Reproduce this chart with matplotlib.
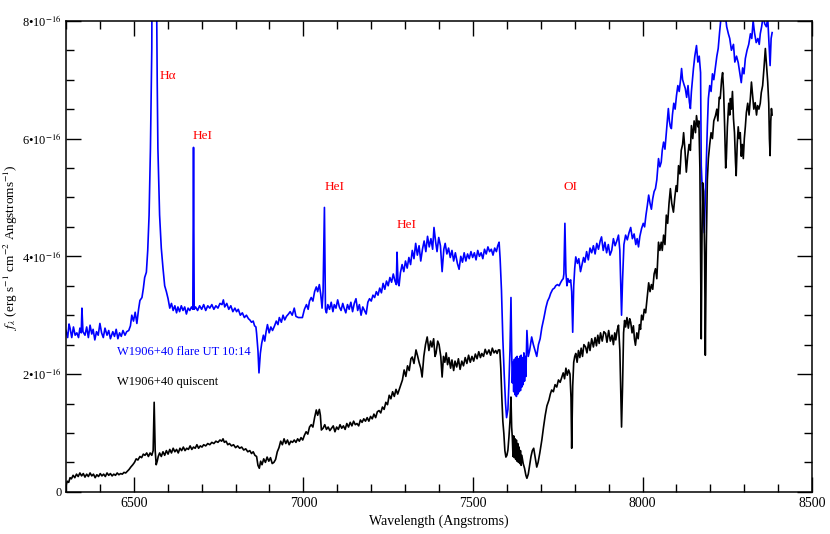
import matplotlib
matplotlib.use("Agg")
import matplotlib.pyplot as plt
from matplotlib.ticker import MultipleLocator, FixedLocator, FuncFormatter
import numpy as np

# flux in units of 1e-16 erg/s/cm2/A
flare = [
    (6300, 2.74), (6305, 2.62), (6309, 2.85), (6312, 2.78), (6317, 2.62), (6322, 2.80), (6327, 2.66),
    (6332, 2.70), (6337, 2.62), (6341, 2.78), (6345, 2.70), (6347, 3.12), (6350, 2.72), (6356, 2.66),
    (6361, 2.80), (6366, 2.62), (6371, 2.83), (6376, 2.68), (6380, 2.76), (6385, 2.58), (6390, 2.72),
    (6395, 2.66), (6400, 2.86), (6405, 2.70), (6410, 2.62), (6415, 2.78), (6421, 2.66), (6426, 2.74),
    (6431, 2.60), (6438, 2.72), (6443, 2.64), (6448, 2.76), (6453, 2.60), (6458, 2.70), (6463, 2.64),
    (6468, 2.74), (6474, 2.66), (6479, 2.72), (6485, 2.74), (6490, 2.82), (6494, 3.00), (6499, 2.90),
    (6504, 3.05), (6509, 2.86), (6514, 3.10), (6518, 3.25), (6524, 3.30), (6528, 3.45), (6532, 3.64),
    (6537, 3.73), (6541, 4.10), (6545, 4.70), (6549, 5.83), (6553, 7.53), (6560, 20.0), (6567, 8.5),
    (6569, 6.96), (6571, 5.83), (6576, 4.70), (6581, 4.14), (6586, 3.80), (6591, 3.50), (6596, 3.40),
    (6601, 3.28), (6606, 3.12), (6611, 3.20), (6616, 3.08), (6621, 3.16), (6626, 3.04), (6630, 3.14),
    (6635, 3.06), (6640, 3.16), (6645, 3.08), (6650, 3.14), (6655, 3.02), (6660, 3.12), (6665, 3.08),
    (6670, 3.14), (6674, 3.10), (6676, 5.85), (6678, 3.10), (6682, 3.14), (6688, 3.08), (6694, 3.16),
    (6700, 3.10), (6706, 3.18), (6712, 3.08), (6718, 3.16), (6724, 3.12), (6730, 3.18), (6736, 3.10),
    (6742, 3.16), (6748, 3.12), (6754, 3.20), (6760, 3.18), (6764, 3.26), (6768, 3.14), (6774, 3.20),
    (6780, 3.10), (6786, 3.16), (6792, 3.06), (6798, 3.12), (6803, 3.06), (6808, 3.10), (6814, 3.00),
    (6820, 3.04), (6826, 2.96), (6832, 3.00), (6838, 2.94), (6842, 2.92), (6847, 2.88), (6852, 2.90),
    (6856, 2.82), (6860, 2.80), (6862, 2.69), (6866, 2.40), (6869, 2.02), (6873, 2.35), (6877, 2.52),
    (6882, 2.66), (6886, 2.56), (6890, 2.72), (6894, 2.84), (6899, 2.70), (6904, 2.80), (6909, 2.74),
    (6915, 2.82), (6920, 2.90), (6925, 2.84), (6929, 2.96), (6935, 2.88), (6940, 3.00), (6945, 2.92),
    (6950, 2.98), (6956, 3.02), (6961, 3.06), (6967, 3.00), (6973, 3.12), (6978, 2.98), (6985, 2.96),
    (6997, 2.96), (7003, 3.10), (7009, 3.18), (7014, 3.10), (7018, 3.24), (7023, 3.30), (7028, 3.24),
    (7033, 3.40), (7038, 3.48), (7042, 3.40), (7047, 3.52), (7051, 3.36), (7055, 3.12), (7058, 3.40),
    (7062, 4.83), (7065, 3.10), (7068, 3.04), (7072, 3.18), (7077, 3.10), (7082, 3.22), (7087, 3.06),
    (7091, 3.18), (7096, 3.12), (7101, 3.26), (7106, 3.14), (7111, 3.08), (7116, 3.20), (7120, 3.12),
    (7125, 3.04), (7130, 3.18), (7135, 3.10), (7140, 3.22), (7145, 3.06), (7150, 3.20), (7155, 3.28),
    (7160, 3.08), (7165, 3.18), (7170, 3.00), (7175, 3.14), (7180, 3.08), (7185, 3.02), (7190, 3.22),
    (7195, 3.28), (7200, 3.24), (7205, 3.34), (7210, 3.30), (7215, 3.40), (7220, 3.34), (7225, 3.46),
    (7230, 3.38), (7235, 3.54), (7240, 3.44), (7245, 3.58), (7250, 3.50), (7255, 3.64), (7260, 3.56),
    (7265, 3.70), (7270, 3.58), (7274, 3.52), (7276, 4.07), (7279, 3.56), (7282, 3.50), (7286, 3.72),
    (7291, 3.86), (7296, 3.74), (7301, 3.92), (7306, 3.80), (7311, 3.98), (7316, 3.86), (7321, 4.10),
    (7326, 3.96), (7331, 4.22), (7336, 4.02), (7341, 4.18), (7346, 3.92), (7351, 4.12), (7356, 4.26),
    (7361, 4.08), (7366, 4.34), (7371, 4.16), (7376, 4.30), (7381, 4.12), (7385, 4.49), (7390, 4.24),
    (7394, 4.08), (7399, 4.32), (7404, 4.18), (7409, 3.74), (7414, 4.12), (7418, 4.22), (7423, 4.04),
    (7428, 4.14), (7433, 3.98), (7438, 4.10), (7443, 3.92), (7448, 4.06), (7454, 3.88), (7459, 3.78),
    (7464, 4.00), (7469, 3.90), (7474, 4.06), (7479, 3.92), (7484, 4.04), (7489, 3.96), (7494, 4.08),
    (7499, 3.98), (7504, 4.06), (7509, 3.94), (7514, 4.10), (7519, 4.00), (7524, 4.06), (7529, 3.96),
    (7534, 4.12), (7539, 4.04), (7544, 4.16), (7549, 4.08), (7554, 4.12), (7559, 4.02), (7564, 4.14),
    (7569, 4.08), (7573, 4.18), (7577, 4.24), (7580, 3.96), (7584, 3.42), (7588, 2.60), (7592, 2.00),
    (7596, 1.50), (7599, 1.26), (7603, 1.40), (7606, 1.85), (7609, 2.40), (7612, 3.30), (7614, 2.40),
    (7616, 1.85), (7618, 2.20), (7620, 1.70), (7622, 2.25), (7624, 1.65), (7626, 2.28), (7628, 1.62),
    (7630, 2.30), (7632, 1.66), (7634, 2.26), (7636, 1.70), (7638, 2.30), (7640, 1.72), (7642, 2.32),
    (7644, 1.78), (7646, 2.28), (7648, 1.82), (7650, 2.36), (7652, 1.88), (7654, 2.30), (7656, 1.96),
    (7659, 2.74), (7663, 2.30), (7667, 2.40), (7673, 2.63), (7678, 2.50), (7683, 2.40), (7688, 2.30),
    (7693, 2.50), (7698, 2.60), (7703, 2.79), (7709, 2.95), (7715, 3.13), (7720, 3.24), (7725, 3.30),
    (7729, 3.37), (7735, 3.44), (7740, 3.46), (7744, 3.50), (7749, 3.52), (7754, 3.50), (7759, 3.56),
    (7763, 3.60), (7766, 3.62), (7768, 3.70), (7771, 4.56), (7774, 3.72), (7777, 3.50), (7780, 3.62),
    (7784, 3.56), (7788, 3.60), (7791, 3.40), (7794, 2.71), (7797, 3.50), (7800, 3.80), (7803, 3.99),
    (7808, 3.88), (7812, 3.96), (7817, 3.74), (7821, 3.85), (7826, 3.98), (7830, 3.90), (7835, 4.08),
    (7840, 3.94), (7845, 4.14), (7850, 4.06), (7855, 4.18), (7860, 4.04), (7865, 4.22), (7870, 4.12),
    (7875, 4.26), (7879, 4.33), (7884, 4.10), (7889, 4.24), (7894, 4.06), (7899, 4.20), (7904, 4.02),
    (7909, 4.10), (7914, 4.30), (7919, 4.18), (7924, 4.26), (7929, 4.36), (7933, 4.10), (7936, 3.40),
    (7938, 3.00), (7941, 3.60), (7945, 4.20), (7950, 4.36), (7955, 4.28), (7960, 4.40), (7965, 4.49),
    (7970, 4.30), (7975, 4.38), (7980, 4.20), (7984, 4.30), (7988, 4.16), (7992, 4.34), (7997, 4.47),
    (8002, 4.56), (8006, 4.50), (8010, 4.70), (8014, 4.86), (8018, 5.04), (8022, 4.90), (8026, 4.80),
    (8030, 4.98), (8034, 5.10), (8038, 5.15), (8042, 5.30), (8047, 5.66), (8051, 5.52), (8055, 5.60),
    (8058, 5.80), (8062, 5.94), (8066, 5.82), (8070, 6.10), (8074, 6.40), (8076, 6.51), (8079, 6.30),
    (8082, 6.20), (8085, 6.17), (8088, 6.40), (8092, 6.60), (8096, 6.50), (8100, 6.73), (8104, 6.90),
    (8108, 6.80), (8112, 7.00), (8115, 7.19), (8118, 7.00), (8122, 6.92), (8126, 6.85), (8130, 6.70),
    (8134, 6.90), (8138, 6.62), (8141, 6.51), (8144, 6.80), (8147, 7.00), (8150, 7.19), (8154, 7.40),
    (8159, 7.58), (8163, 7.30), (8167, 7.40), (8171, 7.12), (8173, 5.54), (8177, 5.00), (8182, 4.40),
    (8185, 5.00), (8188, 5.54), (8191, 6.20), (8194, 6.68), (8198, 6.90), (8202, 6.80), (8206, 7.10),
    (8210, 7.00), (8215, 7.23), (8219, 7.40), (8223, 7.53), (8227, 7.80), (8232, 8.10), (8236, 8.30),
    (8240, 8.00), (8244, 8.10), (8248, 7.90), (8253, 7.78), (8257, 7.70), (8262, 7.50), (8268, 7.60),
    (8272, 7.30), (8277, 7.40), (8282, 7.29), (8287, 7.10), (8291, 6.95), (8295, 7.20), (8299, 7.10),
    (8303, 7.36), (8308, 7.50), (8313, 7.60), (8318, 7.78), (8322, 7.70), (8326, 8.00), (8330, 7.80),
    (8335, 7.63), (8340, 7.70), (8344, 7.60), (8347, 7.78), (8351, 7.90), (8356, 8.10), (8360, 7.95),
    (8365, 7.90), (8369, 8.05), (8373, 7.60), (8376, 7.24), (8379, 7.70), (8382, 7.80),
]

quiet = [
    (6300, 0.10), (6304, 0.18), (6308, 0.16), (6312, 0.24), (6316, 0.22), (6321, 0.28), (6326, 0.24),
    (6331, 0.30), (6336, 0.26), (6341, 0.32), (6346, 0.27), (6351, 0.31), (6356, 0.25), (6361, 0.30),
    (6366, 0.26), (6371, 0.32), (6376, 0.27), (6381, 0.30), (6386, 0.24), (6391, 0.29), (6396, 0.26),
    (6401, 0.31), (6406, 0.27), (6411, 0.30), (6416, 0.26), (6421, 0.32), (6426, 0.28), (6431, 0.31),
    (6436, 0.27), (6441, 0.30), (6446, 0.28), (6451, 0.32), (6456, 0.29), (6461, 0.31), (6466, 0.30),
    (6471, 0.33), (6476, 0.32), (6481, 0.35), (6486, 0.38), (6491, 0.42), (6497, 0.46), (6502, 0.50),
    (6507, 0.56), (6512, 0.54), (6518, 0.60), (6523, 0.58), (6528, 0.64), (6533, 0.62), (6538, 0.66),
    (6543, 0.60), (6548, 0.66), (6553, 0.62), (6557, 0.70), (6560, 1.52), (6563, 0.70), (6566, 0.46),
    (6569, 0.52), (6572, 0.60), (6576, 0.66), (6581, 0.60), (6586, 0.68), (6591, 0.62), (6596, 0.70),
    (6601, 0.64), (6606, 0.72), (6611, 0.66), (6616, 0.74), (6621, 0.68), (6626, 0.72), (6631, 0.66),
    (6636, 0.74), (6641, 0.70), (6646, 0.76), (6651, 0.70), (6656, 0.74), (6661, 0.72), (6666, 0.78),
    (6671, 0.72), (6676, 0.76), (6681, 0.74), (6686, 0.80), (6691, 0.74), (6696, 0.78), (6701, 0.76),
    (6706, 0.80), (6712, 0.78), (6718, 0.82), (6724, 0.80), (6730, 0.84), (6736, 0.82), (6742, 0.86),
    (6748, 0.84), (6754, 0.88), (6759, 0.86), (6763, 0.90), (6767, 0.84), (6772, 0.86), (6777, 0.80),
    (6782, 0.82), (6788, 0.78), (6794, 0.80), (6800, 0.75), (6806, 0.78), (6812, 0.74), (6818, 0.76),
    (6824, 0.71), (6830, 0.73), (6836, 0.68), (6842, 0.70), (6847, 0.65), (6852, 0.68), (6857, 0.62),
    (6862, 0.60), (6866, 0.45), (6870, 0.40), (6874, 0.52), (6878, 0.46), (6883, 0.56), (6888, 0.50),
    (6893, 0.59), (6898, 0.52), (6903, 0.58), (6908, 0.48), (6913, 0.50), (6918, 0.55), (6923, 0.68),
    (6928, 0.75), (6933, 0.86), (6938, 0.80), (6943, 0.90), (6948, 0.82), (6953, 0.88), (6958, 0.80),
    (6963, 0.86), (6968, 0.84), (6973, 0.88), (6978, 0.84), (6983, 0.90), (6988, 0.86), (6993, 0.92),
    (6998, 0.88), (7003, 0.96), (7008, 1.02), (7013, 0.98), (7018, 1.10), (7023, 1.14), (7028, 1.10),
    (7033, 1.26), (7038, 1.39), (7042, 1.30), (7047, 1.40), (7050, 1.30), (7053, 1.05), (7058, 1.08),
    (7063, 1.14), (7068, 1.06), (7073, 1.10), (7078, 1.04), (7083, 1.08), (7088, 1.12), (7093, 1.02),
    (7098, 1.10), (7103, 1.06), (7108, 1.14), (7113, 1.08), (7118, 1.12), (7123, 1.06), (7128, 1.16),
    (7133, 1.10), (7138, 1.18), (7143, 1.12), (7148, 1.20), (7153, 1.14), (7158, 1.16), (7163, 1.12),
    (7168, 1.22), (7173, 1.18), (7178, 1.24), (7183, 1.20), (7188, 1.26), (7193, 1.20), (7198, 1.28),
    (7203, 1.24), (7208, 1.32), (7213, 1.26), (7218, 1.36), (7223, 1.38), (7228, 1.34), (7233, 1.44),
    (7238, 1.40), (7243, 1.52), (7248, 1.48), (7253, 1.64), (7258, 1.58), (7263, 1.70), (7268, 1.62),
    (7273, 1.74), (7278, 1.66), (7282, 1.73), (7287, 1.82), (7292, 1.90), (7297, 2.07), (7302, 1.96),
    (7307, 2.14), (7312, 2.06), (7317, 2.26), (7321, 2.29), (7326, 2.18), (7332, 2.41), (7337, 2.30),
    (7341, 2.20), (7346, 2.10), (7350, 1.95), (7355, 2.30), (7360, 2.50), (7365, 2.63), (7370, 2.40),
    (7375, 2.56), (7379, 2.46), (7384, 2.60), (7388, 2.30), (7391, 2.35), (7396, 2.56), (7400, 2.50),
    (7405, 2.30), (7409, 1.95), (7413, 2.30), (7417, 2.20), (7421, 2.36), (7425, 2.16), (7429, 2.28),
    (7434, 2.10), (7438, 2.24), (7443, 2.06), (7447, 2.22), (7452, 2.12), (7457, 2.26), (7462, 2.08),
    (7467, 2.22), (7472, 2.14), (7477, 2.28), (7482, 2.18), (7487, 2.32), (7492, 2.20), (7497, 2.30),
    (7502, 2.22), (7507, 2.34), (7512, 2.26), (7517, 2.38), (7522, 2.28), (7526, 2.35), (7531, 2.30),
    (7536, 2.42), (7541, 2.34), (7547, 2.41), (7552, 2.32), (7557, 2.44), (7562, 2.36), (7567, 2.40),
    (7571, 2.35), (7575, 2.41), (7579, 2.41), (7582, 2.10), (7585, 1.61), (7588, 1.20), (7591, 0.99),
    (7594, 0.70), (7597, 0.59), (7600, 0.62), (7603, 0.71), (7606, 0.93), (7609, 1.20), (7612, 1.61),
    (7614, 1.10), (7616, 0.92), (7618, 0.60), (7620, 0.95), (7622, 0.58), (7624, 0.90), (7626, 0.55),
    (7628, 0.88), (7630, 0.52), (7632, 0.82), (7634, 0.50), (7636, 0.76), (7638, 0.48), (7640, 0.70),
    (7642, 0.45), (7644, 0.62), (7648, 0.48), (7652, 0.40), (7656, 0.28), (7659, 0.23), (7663, 0.30),
    (7667, 0.45), (7671, 0.60), (7675, 0.70), (7679, 0.74), (7683, 0.60), (7688, 0.42), (7692, 0.50),
    (7697, 0.66), (7703, 0.88), (7708, 1.10), (7713, 1.30), (7718, 1.46), (7724, 1.56), (7728, 1.66),
    (7732, 1.73), (7737, 1.70), (7742, 1.82), (7747, 1.78), (7752, 1.90), (7757, 1.86), (7762, 1.95),
    (7766, 2.02), (7770, 1.92), (7774, 2.10), (7778, 1.98), (7782, 2.07), (7786, 2.00), (7789, 1.60),
    (7791, 0.74), (7794, 1.80), (7797, 2.20), (7800, 2.30), (7803, 2.35), (7807, 2.20), (7811, 2.40),
    (7815, 2.28), (7819, 2.44), (7823, 2.30), (7827, 2.50), (7832, 2.46), (7836, 2.36), (7841, 2.54),
    (7845, 2.40), (7850, 2.60), (7855, 2.46), (7860, 2.62), (7864, 2.48), (7868, 2.66), (7872, 2.52),
    (7876, 2.70), (7881, 2.56), (7886, 2.72), (7891, 2.69), (7895, 2.54), (7900, 2.74), (7905, 2.56),
    (7910, 2.66), (7914, 2.50), (7918, 2.70), (7921, 2.58), (7925, 2.74), (7929, 2.83), (7933, 2.40),
    (7936, 1.60), (7938, 1.10), (7941, 1.80), (7944, 2.70), (7947, 2.91), (7950, 2.80), (7954, 2.96),
    (7958, 2.78), (7962, 2.94), (7965, 2.88), (7969, 2.70), (7973, 2.82), (7976, 2.60), (7979, 2.49),
    (7983, 2.70), (7987, 2.60), (7991, 2.84), (7994, 2.76), (7997, 3.00), (8001, 2.92), (8005, 3.10),
    (8009, 3.04), (8013, 3.26), (8018, 3.55), (8022, 3.40), (8026, 3.52), (8030, 3.44), (8034, 3.70),
    (8038, 3.79), (8042, 3.62), (8047, 4.24), (8051, 4.10), (8055, 4.24), (8058, 4.10), (8062, 4.36),
    (8066, 4.20), (8070, 4.70), (8074, 4.56), (8078, 4.90), (8082, 5.15), (8086, 4.90), (8091, 4.75),
    (8095, 5.00), (8099, 5.20), (8102, 5.10), (8106, 5.54), (8110, 5.40), (8114, 5.80), (8118, 5.90),
    (8121, 6.10), (8125, 5.80), (8129, 5.43), (8133, 5.70), (8137, 5.90), (8141, 5.80), (8144, 6.22),
    (8148, 6.00), (8152, 6.30), (8156, 6.10), (8159, 6.39), (8163, 6.20), (8166, 6.30), (8169, 5.50),
    (8171, 4.00), (8173, 2.60), (8175, 4.20), (8177, 5.25), (8180, 5.10), (8183, 4.00), (8185, 2.32),
    (8188, 4.20), (8191, 5.30), (8194, 5.66), (8198, 5.90), (8202, 6.10), (8206, 6.00), (8210, 6.30),
    (8215, 6.39), (8219, 6.50), (8222, 6.30), (8226, 6.70), (8229, 6.68), (8233, 7.00), (8236, 7.12),
    (8239, 6.80), (8242, 6.20), (8245, 5.50), (8247, 5.66), (8250, 6.20), (8254, 6.60), (8257, 6.40),
    (8259, 6.68), (8262, 6.50), (8265, 6.80), (8268, 6.34), (8271, 6.10), (8274, 5.60), (8276, 5.37),
    (8279, 5.90), (8282, 6.20), (8285, 6.00), (8288, 6.10), (8291, 5.70), (8294, 5.90), (8297, 5.66),
    (8300, 6.00), (8303, 6.20), (8306, 6.44), (8310, 6.60), (8314, 6.40), (8318, 6.70), (8321, 6.96),
    (8325, 6.70), (8328, 6.50), (8332, 6.61), (8336, 6.40), (8339, 6.56), (8343, 6.50), (8347, 6.60),
    (8350, 6.78), (8354, 6.90), (8358, 7.20), (8362, 7.53), (8366, 7.20), (8369, 6.96), (8372, 6.60),
    (8374, 6.00), (8376, 5.71), (8378, 6.30), (8380, 6.51), (8382, 6.40),
]

# line labels: (text, wavelength, flux) -- placement of the red identifications
line_ids = [("H\u03b1", 6576, 7.07), ("HeI", 6673, 6.05), ("HeI", 7062, 5.17),
            ("HeI", 7276, 4.54), ("OI", 7768, 5.17)]

xticks = [6500, 7000, 7500, 8000, 8500]
yticks = [0, 2, 4, 6, 8]

unit = 1e-16

plt.rcParams['font.family'] = ['Liberation Serif', 'DejaVu Serif']
plt.rcParams['mathtext.fontset'] = 'stix'

wf, ff = np.array(flare).T
wq, fq = np.array(quiet).T

fig = plt.figure(figsize=(8.3, 5.34), dpi=100)
ax = fig.add_axes([0.0795, 0.079, 0.899, 0.882])

ax.plot(wf, ff * unit, color="blue", lw=1.2)
ax.plot(wq, fq * unit, color="black", lw=1.2)

for txt, w, f in line_ids:
    ax.text(w, f * unit, txt, color="red", fontsize=9.5, va="center", ha="left")

ax.text(6450, 2.37 * unit, "W1906+40 flare UT 10:14", color="blue", fontsize=9, va="center")
ax.text(6450, 1.86 * unit, "W1906+40 quiscent", color="black", fontsize=9, va="center")

ax.set_xlim(6300, 8500)
ax.set_ylim(0, 8 * unit)
ax.xaxis.set_major_locator(FixedLocator(xticks))
ax.xaxis.set_minor_locator(MultipleLocator(100))
ax.yaxis.set_major_locator(FixedLocator([t * unit for t in yticks]))
ax.yaxis.set_minor_locator(MultipleLocator(0.5 * unit))


def ylab(v, pos):
    n = int(round(v / unit))
    if n == 0:
        return "0"
    return f"{n}\u202210$^{{-16}}$"


ax.yaxis.set_major_formatter(FuncFormatter(ylab))
ax.tick_params(which="both", direction="in", top=True, right=True, labelsize=10, width=1)
ax.tick_params(which="major", length=11, pad=4)
ax.tick_params(which="minor", length=5.5)
ax.tick_params(axis="y", which="major", labelsize=9, pad=3)
for s in ax.spines.values():
    s.set_linewidth(1.1)

ax.set_xlabel("Wavelength (Angstroms)", fontsize=10, labelpad=3)
ax.set_ylabel(r"$f_\lambda$ (erg s$^{-1}$ cm$^{-2}$ Angstroms$^{-1}$)", fontsize=9.5)
ax.yaxis.set_label_coords(-0.061, 0.52)

plt.savefig("out.png", dpi=100)
